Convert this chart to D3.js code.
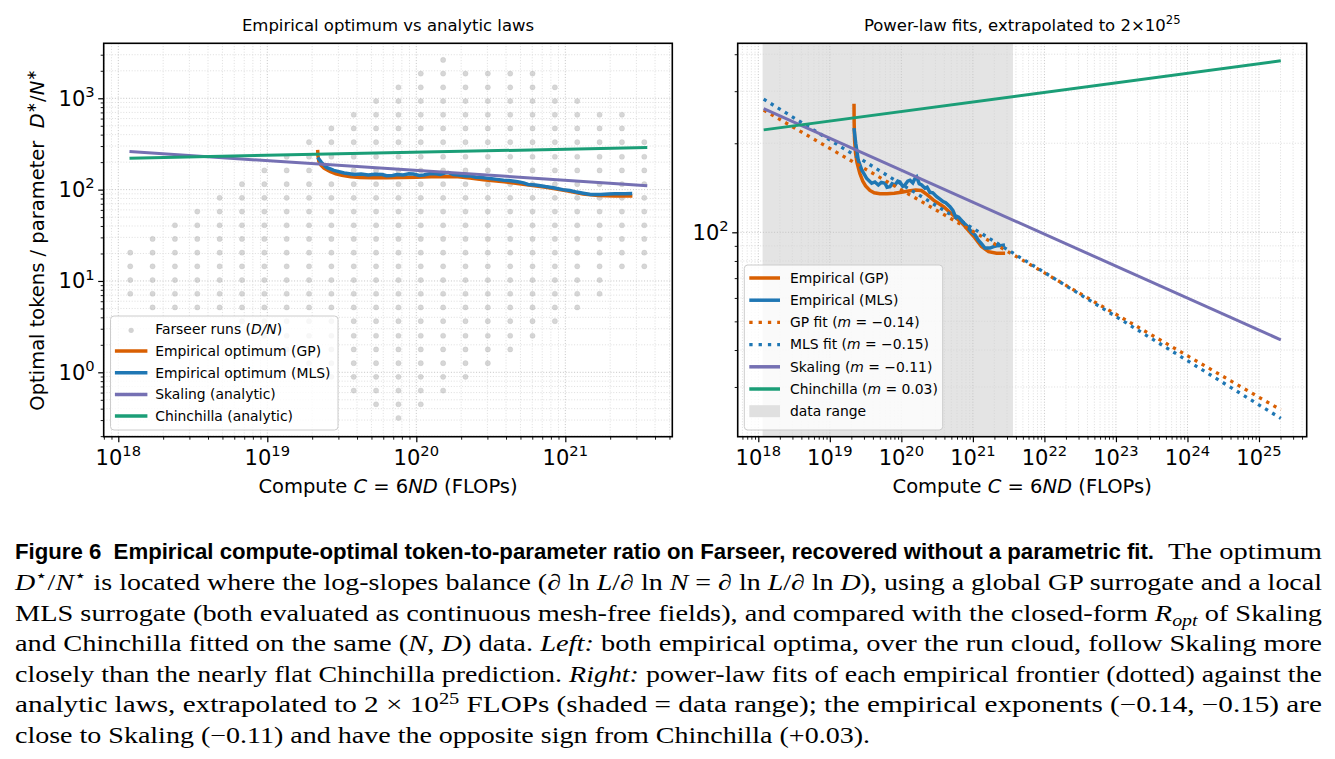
<!DOCTYPE html>
<html>
<head>
<meta charset="utf-8">
<script src="https://cdn.jsdelivr.net/npm/d3@7"></script>
<style>
body { margin: 0; background: #fff; }
text { white-space: pre; }
</style>
</head>
<body>
<svg id="fig" width="1335" height="759" font-family="DejaVu Sans, sans-serif"></svg>
<script>
// ---- data (log10 of compute, ratio D/N) ----
const cloudLogC = [18.08, 18.23, 18.38, 18.53, 18.68, 18.83, 18.98, 19.13, 19.28, 19.43, 19.58, 19.73,
	19.88, 20.03, 20.18, 20.33, 20.48, 20.63, 20.78, 20.93, 21.08, 21.23, 21.38, 21.53];
const cloudLogR = [-0.50, -0.35, -0.20, -0.05, 0.10, 0.25, 0.40, 0.56, 0.71, 0.86, 1.01, 1.16, 1.31, 1.46,
	1.61, 1.76, 1.91, 2.06, 2.21, 2.36, 2.52, 2.67, 2.82, 2.97, 3.12, 3.27, 3.42];
// lowest / highest filled row of the run cloud in each column
const cloudLo = [9, 8, 8, 8, 8, 7, 6, 5, 4, 3, 2, 1, 0, 1, 2, 3, 4, 5, 6, 7, 8, 9, 11, 11];
const cloudHi = [12, 13, 14, 15, 16, 17, 18, 19, 20, 21, 22, 23, 24, 25, 26, 25, 25, 25, 25, 24, 23, 22, 22, 20];

const gpOptimum = [[19.338, 272], [19.340, 235], [19.346, 205], [19.36, 185], [19.38, 172], [19.42, 158],
	[19.46, 149], [19.50, 143.5], [19.56, 138.5], [19.62, 136], [19.70, 135], [19.80, 135], [19.90, 135.5],
	[20.00, 136.5], [20.10, 138], [20.20, 139], [20.28, 138.5], [20.36, 134], [20.45, 128.5], [20.59, 122],
	[20.73, 114], [20.87, 106], [21.01, 97], [21.12, 89.5], [21.22, 86], [21.33, 85], [21.45, 85]];
const mlsOptimum = [[19.338, 225], [19.362, 200], [19.398, 175], [19.446, 162.5], [19.516, 152], [19.585, 146.5],
	[19.63, 148], [19.678, 144.5], [19.72, 147.5], [19.771, 146.5], [19.80, 142], [19.841, 142.6], [19.87, 146],
	[19.911, 144.5], [19.95, 149], [19.98, 148], [20.02, 143], [20.05, 144.5], [20.09, 149], [20.12, 150],
	[20.16, 147], [20.19, 152], [20.214, 154], [20.25, 146], [20.284, 144.5], [20.33, 141], [20.36, 142],
	[20.40, 136.5], [20.44, 136], [20.494, 132], [20.54, 129.5], [20.586, 127], [20.62, 126], [20.68, 122],
	[20.72, 118.5], [20.75, 114], [20.80, 112.5], [20.866, 108], [20.92, 105], [20.983, 100], [21.03, 98],
	[21.076, 94], [21.12, 91.5], [21.169, 88.5], [21.239, 88.5], [21.29, 89.5], [21.333, 90], [21.40, 90.3],
	[21.449, 90.6]];

const skalingLeft = [[18.075, 261], [21.55, 110.6]];
const chinchillaLeft = [[18.075, 221], [21.55, 289]];
const skalingRight = [[18.075, 262], [25.305, 43.3]];
const chinchillaRight = [[18.075, 222], [25.305, 380]];
const gpFit = [[18.075, 259], [25.305, 25.1]];
const mlsFit = [[18.075, 282], [25.305, 23.5]];
const dataRange = [18.06, 21.56];

const leftXTicks = [18, 19, 20, 21];
const leftYTicks = [0, 1, 2, 3];
const rightXTicks = [18, 19, 20, 21, 22, 23, 24, 25];
const rightYTicks = [2];

const colors = { gp: "#d95f02", mls: "#1f77b4", skaling: "#7570b3", chinchilla: "#1b9e77", cloud: "#b4b4b4" };

const svg = d3.select("#fig");
svg.append("rect").attr("width", 1335).attr("height", 759).attr("fill", "#fff");

const pow10 = v => Math.pow(10, v);
const TICK = 21, LEG = 13.9;

// panel boxes
const boxL = { left: 103.7, right: 672.3, top: 43.3, bottom: 436.7 };
const boxR = { left: 737.7, right: 1306.7, top: 43.3, bottom: 436.7 };

const xL = d3.scaleLog().domain([pow10(17.902), pow10(21.718)]).range([boxL.left, boxL.right]);
const yL = d3.scaleLog().domain([pow10(-0.705), pow10(3.602)]).range([boxL.bottom, boxL.top]);
const xR = d3.scaleLog().domain([pow10(17.712), pow10(25.667)]).range([boxR.left, boxR.right]);
const yR = d3.scaleLog().domain([pow10(1.309), pow10(2.639)]).range([boxR.bottom, boxR.top]);

const minorOf = scale => {
	const [a, b] = scale.domain(), out = [];
	for (let d = Math.floor(Math.log10(a)); d <= Math.ceil(Math.log10(b)); d++)
		for (let m = 2; m <= 9; m++) {
			const v = m * pow10(d);
			if (v >= a && v <= b) out.push(v);
		}
	return out;
};
const majorOf = scale => {
	const [a, b] = scale.domain(), out = [];
	for (let d = Math.floor(Math.log10(a)); d <= Math.ceil(Math.log10(b)); d++)
		if (pow10(d) >= a && pow10(d) <= b) out.push(pow10(d));
	return out;
};

const sup = (t, base, exp, size) => {
	t.append("tspan").text(base);
	t.append("tspan").attr("font-size", size * 0.7).attr("dy", -size * 0.42).text(exp);
};

const drawGrid = (g, x, y, box) => {
	const grid = g.append("g").attr("fill", "none");
	const vline = (vals, col, w) => grid.selectAll(null).data(vals).enter().append("line")
		.attr("x1", d => x(d)).attr("x2", d => x(d)).attr("y1", box.top).attr("y2", box.bottom)
		.attr("stroke", col).attr("stroke-width", w).attr("stroke-dasharray", "1,1.8");
	const hline = (vals, col, w) => grid.selectAll(null).data(vals).enter().append("line")
		.attr("y1", d => y(d)).attr("y2", d => y(d)).attr("x1", box.left).attr("x2", box.right)
		.attr("stroke", col).attr("stroke-width", w).attr("stroke-dasharray", "1,1.8");
	vline(minorOf(x), "#d6d6d6", 0.8);
	hline(minorOf(y), "#d6d6d6", 0.8);
	vline(majorOf(x), "#c4c4c4", 1);
	hline(majorOf(y), "#c4c4c4", 1);
};

const drawAxes = (g, x, y, box, xt, yt) => {
	const xMaj = xt.map(pow10), yMaj = yt.map(pow10);
	const ax = (axisFn, vals, size, w, tr) => g.append("g").attr("transform", tr)
		.call(axisFn.tickValues(vals).tickSize(size).tickFormat(""))
		.call(s => s.select(".domain").remove())
		.call(s => s.selectAll(".tick line").attr("stroke", "#000").attr("stroke-width", w));
	ax(d3.axisBottom(x), minorOf(x), 3, 0.9, `translate(0,${box.bottom})`);
	ax(d3.axisBottom(x), xMaj, 5.5, 1.2, `translate(0,${box.bottom})`);
	ax(d3.axisLeft(y), minorOf(y), 3, 0.9, `translate(${box.left},0)`);
	ax(d3.axisLeft(y), yMaj, 5.5, 1.2, `translate(${box.left},0)`);

	g.append("rect").attr("x", box.left).attr("y", box.top)
		.attr("width", box.right - box.left).attr("height", box.bottom - box.top)
		.attr("fill", "none").attr("stroke", "#000").attr("stroke-width", 1.6);

	xt.forEach(e => {
		const t = g.append("text").attr("x", x(pow10(e))).attr("y", box.bottom + 28)
			.attr("text-anchor", "middle").attr("font-size", TICK);
		sup(t, "10", e, TICK);
	});
	yt.forEach(e => {
		const t = g.append("text").attr("x", box.left - 9).attr("y", y(pow10(e)) + 7.5)
			.attr("text-anchor", "end").attr("font-size", TICK);
		sup(t, "10", e, TICK);
	});

	const xl = g.append("text").attr("x", (box.left + box.right) / 2).attr("y", box.bottom + 56)
		.attr("text-anchor", "middle").attr("font-size", 19.5);
	xl.append("tspan").text("Compute ");
	xl.append("tspan").attr("font-style", "italic").text("C");
	xl.append("tspan").text(" = 6");
	xl.append("tspan").attr("font-style", "italic").text("ND");
	xl.append("tspan").text(" (FLOPs)");
};

const pathOf = (x, y) => d3.line().x(d => x(pow10(d[0]))).y(d => y(d[1]));

const drawLegend = (g, box, items, ys, hx0, hx1, tx) => {
	g.append("rect").attr("x", box[0]).attr("y", box[1]).attr("width", box[2]).attr("height", box[3])
		.attr("rx", 3.5).attr("fill", "#fff").attr("fill-opacity", 0.8)
		.attr("stroke", "#cccccc").attr("stroke-width", 1);
	items.forEach((it, i) => {
		const cy = ys[i];
		if (it.type === "line" || it.type === "dots") {
			g.append("line").attr("x1", hx0).attr("x2", hx1).attr("y1", cy).attr("y2", cy)
				.attr("stroke", it.color).attr("stroke-width", it.type === "dots" ? 3.3 : 3.5)
				.attr("stroke-dasharray", it.type === "dots" ? "3.3,6" : null);
		} else if (it.type === "scatter") {
			g.append("circle").attr("cx", (hx0 + hx1) / 2).attr("cy", cy + 1).attr("r", 2.6)
				.attr("fill", colors.cloud).attr("fill-opacity", 0.6);
		} else {
			g.append("rect").attr("x", hx0).attr("y", cy - 6).attr("width", hx1 - hx0).attr("height", 12)
				.attr("fill", "#e0e0e0");
		}
		const t = g.append("text").attr("x", tx).attr("y", cy + 4.8).attr("font-size", LEG);
		it.label.forEach(([s, st]) => {
			const ts = t.append("tspan").text(s);
			if (st) ts.attr("font-style", "italic");
		});
	});
};

// ---------------- left panel ----------------
const gL = svg.append("g");
drawGrid(gL, xL, yL, boxL);

const cloud = [];
cloudLogC.forEach((c, k) => {
	for (let j = cloudLo[k]; j <= cloudHi[k]; j++) cloud.push([c, cloudLogR[j]]);
});
gL.append("g").selectAll("circle").data(cloud).enter().append("circle")
	.attr("cx", d => xL(pow10(d[0]))).attr("cy", d => yL(pow10(d[1])))
	.attr("r", 2.6).attr("fill", colors.cloud).attr("fill-opacity", 0.55)
	.attr("stroke", "#a8a8a8").attr("stroke-opacity", 0.35).attr("stroke-width", 0.6);

const lineL = pathOf(xL, yL);
gL.append("path").datum(gpOptimum).attr("d", lineL).attr("fill", "none").attr("stroke", colors.gp).attr("stroke-width", 3.5);
gL.append("path").datum(mlsOptimum).attr("d", lineL).attr("fill", "none").attr("stroke", colors.mls).attr("stroke-width", 3.5);
gL.append("path").datum(skalingLeft).attr("d", lineL).attr("fill", "none").attr("stroke", colors.skaling).attr("stroke-width", 3);
gL.append("path").datum(chinchillaLeft).attr("d", lineL).attr("fill", "none").attr("stroke", colors.chinchilla).attr("stroke-width", 3);

drawLegend(gL, [110.5, 316, 227.5, 114], [
	{ type: "scatter", label: [["Farseer runs ("], ["D/N", 1], [")"]] },
	{ type: "line", color: colors.gp, label: [["Empirical optimum (GP)"]] },
	{ type: "line", color: colors.mls, label: [["Empirical optimum (MLS)"]] },
	{ type: "line", color: colors.skaling, label: [["Skaling (analytic)"]] },
	{ type: "line", color: colors.chinchilla, label: [["Chinchilla (analytic)"]] }
], [329.3, 351, 372.7, 394.4, 416], 114.9, 147.4, 155.2);

drawAxes(gL, xL, yL, boxL, leftXTicks, leftYTicks);

gL.append("text").attr("x", (boxL.left + boxL.right) / 2).attr("y", 31)
	.attr("text-anchor", "middle").attr("font-size", 16.5).text("Empirical optimum vs analytic laws");

const yl = gL.append("text").attr("transform", "translate(44,240) rotate(-90)")
	.attr("text-anchor", "middle").attr("font-size", 19.5);
yl.append("tspan").text("Optimal tokens / parameter  ");
yl.append("tspan").attr("font-style", "italic").text("D");
yl.append("tspan").attr("font-size", 13.6).attr("dy", -8).text("∗");
yl.append("tspan").attr("dy", 8).text("/");
yl.append("tspan").attr("font-style", "italic").text("N");
yl.append("tspan").attr("font-size", 13.6).attr("dy", -8).text("∗");

// ---------------- right panel ----------------
const gR = svg.append("g");
gR.append("rect").attr("x", xR(pow10(dataRange[0]))).attr("y", boxR.top)
	.attr("width", xR(pow10(dataRange[1])) - xR(pow10(dataRange[0]))).attr("height", boxR.bottom - boxR.top)
	.attr("fill", "#e4e4e4");
drawGrid(gR, xR, yR, boxR);

const lineR = pathOf(xR, yR);
gR.append("path").datum(gpOptimum).attr("d", lineR).attr("fill", "none").attr("stroke", colors.gp).attr("stroke-width", 3.5);
gR.append("path").datum(mlsOptimum).attr("d", lineR).attr("fill", "none").attr("stroke", colors.mls).attr("stroke-width", 3.5);
gR.append("path").datum(gpFit).attr("d", lineR).attr("fill", "none").attr("stroke", colors.gp)
	.attr("stroke-width", 3.3).attr("stroke-dasharray", "3.3,5");
gR.append("path").datum(mlsFit).attr("d", lineR).attr("fill", "none").attr("stroke", colors.mls)
	.attr("stroke-width", 3.3).attr("stroke-dasharray", "3.3,5");
gR.append("path").datum(skalingRight).attr("d", lineR).attr("fill", "none").attr("stroke", colors.skaling).attr("stroke-width", 3);
gR.append("path").datum(chinchillaRight).attr("d", lineR).attr("fill", "none").attr("stroke", colors.chinchilla).attr("stroke-width", 3);

drawLegend(gR, [744.3, 265, 198.4, 165], [
	{ type: "line", color: colors.gp, label: [["Empirical (GP)"]] },
	{ type: "line", color: colors.mls, label: [["Empirical (MLS)"]] },
	{ type: "dots", color: colors.gp, label: [["GP fit ("], ["m", 1], [" = −0.14)"]] },
	{ type: "dots", color: colors.mls, label: [["MLS fit ("], ["m", 1], [" = −0.15)"]] },
	{ type: "line", color: colors.skaling, label: [["Skaling ("], ["m", 1], [" = −0.11)"]] },
	{ type: "line", color: colors.chinchilla, label: [["Chinchilla ("], ["m", 1], [" = 0.03)"]] },
	{ type: "patch", label: [["data range"]] }
], [278, 300.2, 322.4, 344.6, 366.8, 389, 411.2], 749.3, 780, 790);

drawAxes(gR, xR, yR, boxR, rightXTicks, rightYTicks);

const tr = gR.append("text").attr("x", (boxR.left + boxR.right) / 2).attr("y", 31)
	.attr("text-anchor", "middle").attr("font-size", 16.5);
sup(tr, "Power-law fits, extrapolated to 2×10", "25", 16.5);

// ---------------- caption ----------------
const SERIF = "'Liberation Serif', 'DejaVu Serif', serif";
const captionLine = (segs, x, y, len, size) => {
	const t = svg.append("text").attr("x", x).attr("y", y).style("font-family", SERIF)
		.attr("font-size", size).attr("textLength", len).attr("lengthAdjust", "spacingAndGlyphs");
	let shift = 0;
	segs.forEach(([s, st = ""]) => {
		const want = st.includes("sup") ? -0.38 * size : st.includes("sub") ? 0.22 * size : 0;
		const ts = t.append("tspan").text(s).attr("dy", want - shift);
		if (st.includes("ital")) ts.attr("font-style", "italic");
		if (want) ts.attr("font-size", size * 0.7);
		shift = want;
	});
};

svg.append("text").attr("x", 15).attr("y", 559).style("font-family", "'Liberation Sans', Arial, sans-serif")
	.attr("font-weight", "bold").attr("font-size", 22).attr("textLength", 1139).attr("lengthAdjust", "spacingAndGlyphs")
	.text("Figure 6  Empirical compute-optimal token-to-parameter ratio on Farseer, recovered without a parametric fit.");
captionLine([["The optimum"]], 1168, 559, 154, 22.5);

const CS = 22.5;
const captionRows = [
	[[["D", "ital"], ["⋆", "sup"], ["/"], ["N", "ital"], ["⋆", "sup"], [" is located where the log-slopes balance (∂ ln "],
		["L", "ital"], ["/∂ ln "], ["N", "ital"], [" = ∂ ln "], ["L", "ital"], ["/∂ ln "], ["D", "ital"],
		["), using a global GP surrogate and a local"]], 1307],
	[[["MLS surrogate (both evaluated as continuous mesh-free fields), and compared with the closed-form "],
		["R", "ital"], ["opt", "sub ital"], [" of Skaling"]], 1307],
	[[["and Chinchilla fitted on the same ("], ["N", "ital"], [", "], ["D", "ital"], [") data. "], ["Left:", "ital"],
		[" both empirical optima, over the run cloud, follow Skaling more"]], 1307],
	[[["closely than the nearly flat Chinchilla prediction. "], ["Right:", "ital"],
		[" power-law fits of each empirical frontier (dotted) against the"]], 1307],
	[[["analytic laws, extrapolated to 2 × 10"], ["25", "sup"],
		[" FLOPs (shaded = data range); the empirical exponents (−0.14, −0.15) are"]], 1307],
	[[["close to Skaling (−0.11) and have the opposite sign from Chinchilla (+0.03)."]], 855]
];
captionRows.forEach(([segs, len], i) => captionLine(segs, 15, 590 + i * 30.6, len, CS));
</script>
</body>
</html>
